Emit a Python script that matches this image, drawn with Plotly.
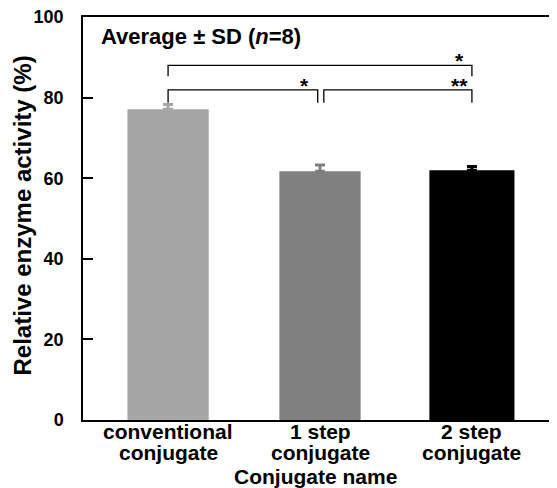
import plotly.graph_objects as go

categories = ["conventional<br>conjugate", "1 step<br>conjugate", "2 step<br>conjugate"]
means = [77.1, 61.7, 62.0]
sds = [1.2, 1.6, 0.9]
colors = ["#a6a6a6", "#808080", "#000000"]
y_ticks = [0, 20, 40, 60, 80, 100]

# significance brackets: (x_start, x_end, y_line, y_drop, label, label_x, label_y)
brackets = [
    (0.0, 2.0, 88.0, 85.3, "*", 1.92, 90.1),
    (0.0, 0.985, 81.9, 78.7, "*", 0.9, 83.9),
    (1.025, 2.0, 81.9, 78.7, "**", 1.92, 83.9),
]

FONT = "Liberation Sans, Arial, Helvetica, sans-serif"
BAR_W = [0.535, 0.535, 0.56]

fig = go.Figure()
for i in range(3):
    fig.add_trace(go.Bar(
        x=[i], y=[means[i]], width=BAR_W[i],
        marker=dict(color=colors[i], line=dict(width=0)),
        error_y=dict(type="data", symmetric=False, array=[sds[i]], arrayminus=[0],
                     color=colors[i], thickness=3, width=5),
        showlegend=False,
    ))

for x0, x1, yl, yd, lab, lx, ly in brackets:
    fig.add_trace(go.Scatter(
        x=[x0, x0, x1, x1], y=[yd, yl, yl, yd], mode="lines",
        line=dict(color="black", width=1.3), showlegend=False, hoverinfo="skip",
    ))
    fig.add_annotation(x=lx, y=ly, text="<b>" + lab + "</b>", showarrow=False,
                       xanchor="center", yanchor="middle", yshift=-4,
                       font=dict(family=FONT, size=21, color="black"))

# category labels (two tight lines each)
for i, c in enumerate(categories):
    for j, line in enumerate(c.split("<br>")):
        fig.add_annotation(x=i, y=0, xref="x", yref="paper", text="<b>" + line + "</b>",
                           showarrow=False, xanchor="center", yanchor="middle",
                           yshift=-11 - 21 * j,
                           font=dict(family=FONT, size=21, color="black"))

# axis titles
fig.add_annotation(x=0.5, y=0, xref="paper", yref="paper", text="<b>Conjugate name</b>",
                   showarrow=False, xanchor="center", yanchor="top", yshift=-43, xshift=-5,
                   font=dict(family=FONT, size=21, color="black"))
fig.add_annotation(x=0, y=0.5, xref="paper", yref="paper", text="<b>Relative enzyme activity (%)</b>",
                   showarrow=False, xanchor="center", yanchor="middle", textangle=-90,
                   xshift=-61, yshift=3,
                   font=dict(family=FONT, size=24, color="black"))

fig.add_annotation(x=0, y=1, xref="paper", yref="paper", xanchor="left", yanchor="top",
                   xshift=16, yshift=-5, showarrow=False,
                   text="<b>Average ± SD (<i>n</i>=8)</b>",
                   font=dict(family=FONT, size=22, color="black"))

fig.update_layout(
    width=549, height=480,
    margin=dict(l=75, r=0, t=9, b=68),
    plot_bgcolor="white", paper_bgcolor="white",
    barmode="overlay",
    font=dict(family=FONT, color="black"),
    xaxis=dict(
        range=[-0.56, 2.56], tickvals=[0, 1, 2], showticklabels=False,
        showline=True, linecolor="black", linewidth=1.5, mirror=True, ticks="",
        showgrid=False, zeroline=False,
    ),
    yaxis=dict(
        range=[0, 100], tickvals=y_ticks, ticktext=["<b>%d</b>" % v for v in y_ticks],
        showline=True, linecolor="black", linewidth=1.5, mirror=False,
        ticks="inside", ticklen=10, tickwidth=1.5, tickcolor="black",
        ticklabelstandoff=14, ticklabeloverflow="allow",
        showgrid=False, zeroline=False, tickfont=dict(family=FONT, size=18, color="black"),
    ),
)

fig.write_html("out.html")
